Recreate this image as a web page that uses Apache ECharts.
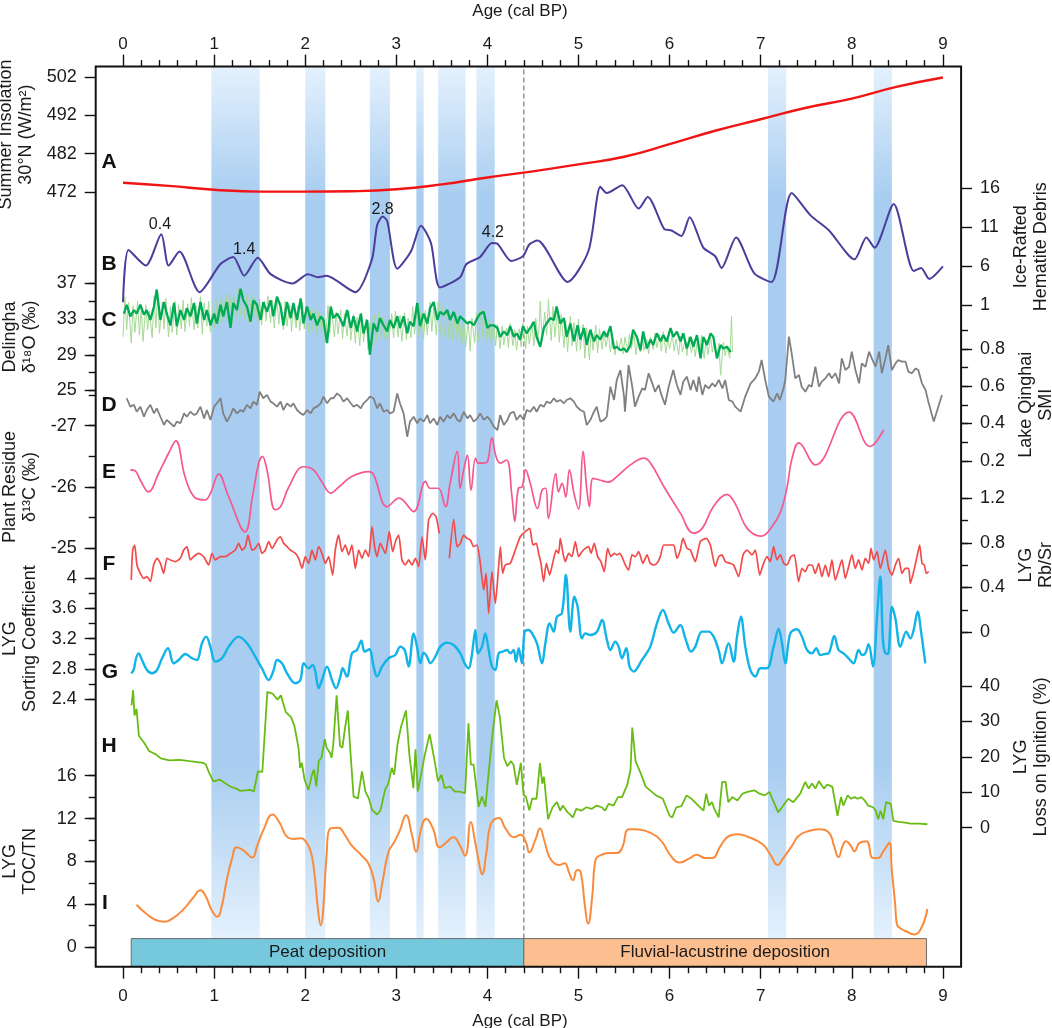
<!DOCTYPE html>
<html>
<head>
<meta charset="utf-8">
<script src="https://cdn.jsdelivr.net/npm/echarts@6.0.0/dist/echarts.min.js"></script>
<style>
html,body{margin:0;padding:0;background:#fff}
#main{width:1052px;height:1028px}
</style>
</head>
<body>
<div id="main"></div>
<script>
// ---- data (age in ka cal BP) ----
var ageTicks = [0, 1, 2, 3, 4, 5, 6, 7, 8, 9];

// shaded intervals [start, end]
var bands = [[0.97, 1.5], [2.0, 2.22], [2.71, 2.93], [3.22, 3.3], [3.46, 3.76], [3.88, 4.08], [7.08, 7.28], [8.24, 8.44]];
var boundaryAge = 4.4;
var depoSpans = [[0.09, 4.4], [4.4, 8.82]];
var depoNames = ['Peat deposition', 'Fluvial-lacustrine deposition'];

// A summer insolation 30N
var insolation = [[0, 474.4], [0.5, 473.6], [1, 472.6], [1.5, 472.1], [2, 472.1], [2.5, 472.2], [3, 472.7], [3.5, 474.0], [4, 475.8], [4.5, 477.4],
  [5, 479.2], [5.5, 481.2], [6, 484.5], [6.5, 488.0], [7, 491.0], [7.5, 494.0], [8, 496.4], [8.5, 499.5], [9, 501.9]];

// B ice-rafted hematite debris
var hematite = [[0, 1.4], [0.06, 8.1], [0.25, 6.1], [0.42, 10.1], [0.5, 6.1], [0.62, 7.9], [0.84, 2.7], [1.07, 6.3], [1.21, 7.2], [1.33, 4.8],
  [1.48, 7.1], [1.62, 5.0], [1.86, 3.8], [2.03, 5.0], [2.14, 4.6], [2.23, 4.8], [2.55, 2.7], [2.73, 6.8], [2.79, 11.3], [2.85, 12.4],
  [2.9, 11.8], [3.01, 5.7], [3.16, 7.9], [3.27, 11.2], [3.38, 9.0], [3.48, 3.3], [3.7, 4.6], [3.77, 6.3], [3.92, 7.2], [4.05, 9.0],
  [4.11, 8.9], [4.26, 6.7], [4.39, 7.3], [4.46, 8.8], [4.55, 9.3], [4.88, 4.0], [5.11, 8.0], [5.24, 16.2], [5.31, 15.4], [5.48, 16.4],
  [5.66, 13.4], [5.76, 14.9], [5.94, 10.8], [6.02, 10.6], [6.13, 9.9], [6.22, 12.3], [6.37, 8.4], [6.5, 7.3], [6.57, 5.8], [6.73, 9.7],
  [6.93, 5.1], [7.12, 4.0], [7.34, 15.4], [7.55, 12.5], [7.75, 10.6], [8.03, 6.9], [8.16, 9.7], [8.25, 8.4], [8.46, 14.0], [8.68, 5.4],
  [8.76, 5.8], [8.85, 4.4], [9.0, 6.0]];
var eventNames = ['0.4', '1.4', '2.8', '4.2', '5.5', '8.2'];
var eventAt = [[0.405, 11.3], [1.33, 8.2], [2.85, 13.3], [4.06, 10.3], [5.48, 17.4], [8.46, 16.7]];

// C Delingha d18O, raw (light) and smoothed (dark)
var d18oRaw = [[0.0, 31.0], [0.02, 35.5], [0.04, 31.8], [0.06, 34.9], [0.09, 30.3], [0.11, 34.5], [0.13, 31.5], [0.16, 35.0], [0.18, 31.2], [0.2, 34.2],
  [0.22, 30.5], [0.25, 34.6], [0.27, 31.8], [0.29, 33.9], [0.32, 30.9], [0.34, 35.6], [0.36, 32.0], [0.38, 36.0], [0.4, 31.4], [0.43, 34.9],
  [0.45, 31.9], [0.47, 35.3], [0.5, 31.0], [0.52, 34.4], [0.54, 31.5], [0.57, 35.0], [0.59, 31.2], [0.61, 34.6], [0.64, 31.9], [0.66, 35.1],
  [0.68, 31.6], [0.71, 34.7], [0.73, 32.2], [0.75, 35.4], [0.78, 31.8], [0.8, 34.5], [0.82, 32.0], [0.85, 35.5], [0.87, 31.3], [0.89, 34.8],
  [0.92, 32.2], [0.94, 35.0], [0.96, 31.5], [0.99, 34.3], [1.01, 32.0], [1.03, 35.2], [1.06, 32.4], [1.08, 35.6], [1.1, 32.6], [1.13, 35.8],
  [1.15, 33.0], [1.17, 36.0], [1.2, 32.5], [1.22, 35.5], [1.24, 33.2], [1.27, 36.4], [1.29, 33.4], [1.31, 36.2], [1.34, 33.0], [1.36, 35.7],
  [1.38, 32.6], [1.41, 35.9], [1.43, 33.1], [1.45, 35.4], [1.48, 32.5], [1.5, 35.2], [1.52, 32.3], [1.55, 35.0], [1.57, 32.8], [1.59, 35.6],
  [1.62, 32.6], [1.64, 35.1], [1.66, 32.0], [1.69, 35.3], [1.71, 32.4], [1.73, 34.9], [1.76, 31.8], [1.78, 35.0], [1.8, 32.2], [1.83, 34.6],
  [1.85, 31.6], [1.87, 34.8], [1.9, 32.0], [1.92, 34.5], [1.94, 31.7], [1.97, 34.9], [1.99, 31.9], [2.01, 34.4], [2.04, 31.5], [2.06, 34.0],
  [2.08, 31.8], [2.11, 34.3], [2.13, 31.2], [2.15, 33.9], [2.18, 31.6], [2.2, 33.7], [2.22, 30.4], [2.25, 34.5], [2.27, 31.4], [2.29, 34.1],
  [2.32, 31.0], [2.34, 33.8], [2.36, 31.3], [2.39, 34.0], [2.41, 30.8], [2.43, 33.6], [2.46, 31.1], [2.48, 33.9], [2.5, 30.6], [2.53, 33.5],
  [2.55, 30.3], [2.57, 33.2], [2.6, 30.0], [2.62, 33.7], [2.64, 30.4], [2.67, 33.0], [2.69, 29.6], [2.71, 32.6], [2.74, 30.0], [2.76, 33.4],
  [2.78, 30.6], [2.81, 33.8], [2.83, 30.9], [2.85, 33.2], [2.88, 30.5], [2.9, 33.0], [2.92, 30.8], [2.95, 33.6], [2.97, 30.9], [2.99, 33.9],
  [3.02, 31.0], [3.04, 33.4], [3.06, 30.5], [3.09, 33.7], [3.11, 30.7], [3.13, 33.1], [3.16, 30.9], [3.18, 34.4], [3.2, 31.3], [3.23, 34.6],
  [3.25, 31.0], [3.27, 33.8], [3.3, 30.8], [3.32, 34.0], [3.34, 31.2], [3.37, 34.9], [3.39, 31.6], [3.41, 34.3], [3.44, 31.2], [3.46, 35.0],
  [3.48, 31.4], [3.51, 34.4], [3.53, 31.0], [3.55, 34.0], [3.58, 30.8], [3.6, 33.5], [3.62, 30.6], [3.65, 33.8], [3.67, 30.5], [3.69, 33.2],
  [3.72, 30.2], [3.74, 33.0], [3.76, 29.8], [3.79, 32.8], [3.81, 29.4], [3.83, 33.1], [3.86, 30.3], [3.88, 33.7], [3.9, 30.6], [3.93, 34.1],
  [3.95, 30.9], [3.97, 33.3], [4.0, 30.5], [4.02, 33.0], [4.04, 30.3], [4.07, 32.6], [4.09, 30.0], [4.11, 32.4], [4.14, 29.7], [4.16, 32.2],
  [4.18, 30.1], [4.21, 32.0], [4.23, 29.8], [4.25, 32.5], [4.28, 30.0], [4.3, 31.8], [4.32, 29.5], [4.35, 31.9], [4.37, 29.9], [4.39, 32.5],
  [4.42, 29.7], [4.44, 32.2], [4.46, 30.2], [4.49, 32.6], [4.51, 30.0], [4.53, 33.1], [4.56, 30.5], [4.58, 35.0], [4.6, 30.7], [4.63, 33.8],
  [4.65, 31.2], [4.67, 35.2], [4.7, 30.6], [4.72, 34.4], [4.74, 31.0], [4.77, 33.9], [4.79, 30.4], [4.81, 33.5], [4.84, 29.8], [4.86, 32.8],
  [4.88, 29.3], [4.91, 33.3], [4.93, 30.0], [4.95, 32.6], [4.98, 29.4], [5.0, 33.0], [5.02, 29.6], [5.05, 32.4], [5.07, 28.6], [5.09, 32.0],
  [5.12, 28.4], [5.14, 31.8], [5.16, 29.5], [5.19, 32.3], [5.21, 29.2], [5.23, 31.9], [5.26, 29.6], [5.28, 31.7], [5.3, 29.9], [5.33, 31.4],
  [5.35, 29.3], [5.37, 30.8], [5.4, 29.0], [5.42, 30.6], [5.44, 29.5], [5.47, 30.9], [5.49, 29.1], [5.51, 31.0], [5.54, 29.4], [5.56, 31.3],
  [5.58, 29.7], [5.61, 31.2], [5.63, 29.0], [5.65, 30.8], [5.68, 29.3], [5.7, 31.2], [5.72, 29.5], [5.75, 30.7], [5.77, 29.1], [5.79, 31.0],
  [5.82, 29.6], [5.84, 31.4], [5.86, 29.8], [5.89, 31.3], [5.91, 29.4], [5.93, 31.6], [5.96, 29.2], [5.98, 30.9], [6.0, 29.7], [6.03, 31.2],
  [6.05, 29.4], [6.07, 30.8], [6.1, 29.0], [6.12, 31.1], [6.14, 29.3], [6.17, 30.6], [6.19, 28.9], [6.21, 31.0], [6.24, 29.2], [6.26, 30.5],
  [6.28, 28.8], [6.31, 30.9], [6.33, 29.1], [6.35, 31.2], [6.38, 28.6], [6.4, 30.7], [6.42, 29.0], [6.45, 31.0], [6.47, 29.3], [6.49, 30.6],
  [6.52, 28.7], [6.54, 30.3], [6.56, 26.7], [6.59, 30.4], [6.61, 28.9], [6.63, 30.0], [6.66, 28.6], [6.68, 33.3], [6.69, 29.3]];
var d18oSmooth = [[0.01, 33.6], [0.04, 34.6], [0.08, 33.3], [0.12, 34.0], [0.15, 33.6], [0.19, 34.6], [0.23, 33.5], [0.26, 34.0], [0.30, 32.9], [0.34, 34.4],
  [0.37, 36.3], [0.41, 32.9], [0.45, 34.9], [0.48, 33.6], [0.52, 32.3], [0.56, 34.8], [0.59, 32.2], [0.63, 34.0], [0.67, 32.9], [0.70, 34.2],
  [0.74, 33.3], [0.78, 34.8], [0.81, 32.5], [0.85, 34.9], [0.89, 32.9], [0.92, 34.0], [0.96, 32.3], [1.00, 33.6], [1.03, 32.5], [1.07, 34.6],
  [1.10, 33.3], [1.14, 34.9], [1.18, 32.0], [1.21, 34.8], [1.25, 34.0], [1.29, 36.4], [1.32, 35.1], [1.36, 34.4], [1.40, 32.7], [1.43, 35.1],
  [1.47, 34.6], [1.51, 32.9], [1.54, 34.9], [1.58, 33.8], [1.62, 35.1], [1.65, 33.3], [1.69, 35.5], [1.73, 34.4], [1.76, 32.3], [1.80, 34.9],
  [1.84, 33.1], [1.87, 34.8], [1.91, 32.9], [1.95, 35.3], [1.98, 32.5], [2.02, 34.4], [2.06, 32.9], [2.09, 33.6], [2.13, 32.3], [2.17, 33.3],
  [2.20, 32.9], [2.24, 30.3], [2.28, 34.4], [2.31, 33.1], [2.35, 33.6], [2.39, 32.9], [2.42, 32.2], [2.46, 34.0], [2.50, 32.0], [2.53, 33.3],
  [2.57, 31.6], [2.61, 33.6], [2.64, 31.4], [2.68, 32.9], [2.71, 29.0], [2.75, 32.5], [2.79, 31.6], [2.82, 33.1], [2.86, 32.3], [2.90, 31.6],
  [2.93, 32.9], [2.97, 32.0], [3.01, 33.3], [3.04, 32.0], [3.08, 33.3], [3.12, 31.4], [3.15, 32.7], [3.19, 32.2], [3.23, 34.8], [3.26, 32.2],
  [3.30, 33.6], [3.34, 32.5], [3.37, 34.2], [3.41, 34.9], [3.45, 32.9], [3.48, 33.8], [3.52, 33.5], [3.56, 34.0], [3.59, 32.9], [3.63, 33.8],
  [3.67, 32.5], [3.70, 33.3], [3.74, 32.9], [3.78, 32.5], [3.81, 32.7], [3.85, 32.3], [3.89, 33.1], [3.92, 33.6], [3.96, 33.8], [4.00, 32.0],
  [4.03, 32.3], [4.07, 32.3], [4.11, 32.0], [4.14, 31.0], [4.18, 31.6], [4.22, 31.2], [4.25, 32.2], [4.29, 31.0], [4.32, 31.4], [4.36, 30.7],
  [4.39, 32.2], [4.43, 31.4], [4.47, 32.0], [4.51, 32.7], [4.54, 31.0], [4.58, 29.9], [4.62, 32.0], [4.65, 32.5], [4.69, 33.1], [4.73, 32.9],
  [4.76, 34.4], [4.80, 32.5], [4.84, 33.1], [4.87, 31.0], [4.91, 32.5], [4.95, 30.5], [4.99, 32.3], [5.02, 30.7], [5.06, 32.0], [5.09, 30.1],
  [5.13, 31.8], [5.17, 30.5], [5.20, 31.2], [5.24, 30.7], [5.28, 31.6], [5.31, 31.0], [5.35, 32.2], [5.39, 29.7], [5.42, 29.9], [5.46, 29.5],
  [5.50, 29.7], [5.53, 29.3], [5.57, 30.1], [5.60, 31.8], [5.64, 31.0], [5.68, 29.5], [5.71, 31.6], [5.75, 29.7], [5.79, 30.7], [5.82, 30.1],
  [5.86, 31.4], [5.90, 30.5], [5.93, 31.2], [5.97, 30.5], [6.01, 32.0], [6.04, 31.0], [6.08, 31.6], [6.12, 30.5], [6.15, 31.4], [6.19, 29.7],
  [6.23, 31.0], [6.26, 29.9], [6.30, 31.2], [6.34, 28.6], [6.37, 31.0], [6.41, 30.1], [6.45, 31.4], [6.48, 31.0], [6.52, 28.6], [6.56, 30.1],
  [6.59, 29.7], [6.63, 29.9], [6.67, 29.3]];

// D Lake Qinghai SMI
var smi = [[0.04, 0.535], [0.08, 0.49], [0.12, 0.50], [0.15, 0.463], [0.19, 0.49], [0.23, 0.436], [0.26, 0.472], [0.30, 0.50], [0.34, 0.454], [0.37, 0.481],
  [0.41, 0.436], [0.45, 0.392], [0.48, 0.419], [0.52, 0.401], [0.56, 0.383], [0.59, 0.41], [0.63, 0.401], [0.67, 0.454], [0.70, 0.436], [0.74, 0.463],
  [0.78, 0.445], [0.81, 0.454], [0.85, 0.49], [0.89, 0.427], [0.92, 0.472], [0.96, 0.419], [1.00, 0.49], [1.03, 0.508], [1.07, 0.535], [1.10, 0.454],
  [1.14, 0.41], [1.18, 0.445], [1.21, 0.481], [1.25, 0.454], [1.29, 0.472], [1.32, 0.463], [1.36, 0.50], [1.40, 0.481], [1.43, 0.517], [1.47, 0.50],
  [1.50, 0.57], [1.54, 0.535], [1.58, 0.553], [1.62, 0.517], [1.65, 0.508], [1.69, 0.49], [1.73, 0.517], [1.76, 0.472], [1.80, 0.508], [1.84, 0.49],
  [1.87, 0.508], [1.91, 0.472], [1.95, 0.454], [1.98, 0.445], [2.02, 0.472], [2.06, 0.454], [2.09, 0.481], [2.13, 0.49], [2.17, 0.508], [2.20, 0.544],
  [2.24, 0.508], [2.28, 0.535], [2.31, 0.535], [2.35, 0.561], [2.39, 0.544], [2.42, 0.517], [2.46, 0.535], [2.50, 0.508], [2.53, 0.49], [2.57, 0.50],
  [2.61, 0.481], [2.64, 0.508], [2.68, 0.526], [2.71, 0.544], [2.75, 0.535], [2.79, 0.481], [2.82, 0.508], [2.86, 0.463], [2.90, 0.472], [2.93, 0.454],
  [2.97, 0.463], [3.01, 0.561], [3.04, 0.508], [3.08, 0.454], [3.12, 0.329], [3.15, 0.41], [3.19, 0.436], [3.23, 0.401], [3.26, 0.427], [3.30, 0.41],
  [3.34, 0.445], [3.37, 0.401], [3.41, 0.427], [3.45, 0.392], [3.48, 0.436], [3.52, 0.41], [3.56, 0.445], [3.59, 0.427], [3.63, 0.454], [3.67, 0.419],
  [3.70, 0.41], [3.74, 0.463], [3.78, 0.427], [3.81, 0.445], [3.85, 0.41], [3.89, 0.427], [3.92, 0.454], [3.96, 0.419], [4.00, 0.436], [4.03, 0.419],
  [4.07, 0.383], [4.11, 0.365], [4.14, 0.445], [4.18, 0.392], [4.22, 0.419], [4.25, 0.454], [4.29, 0.463], [4.32, 0.419], [4.36, 0.445], [4.40, 0.419],
  [4.43, 0.472], [4.47, 0.463], [4.51, 0.49], [4.54, 0.463], [4.58, 0.50], [4.62, 0.49], [4.65, 0.517], [4.69, 0.508], [4.73, 0.535], [4.76, 0.517],
  [4.80, 0.526], [4.84, 0.508], [4.87, 0.526], [4.91, 0.535], [4.95, 0.517], [4.98, 0.49], [5.02, 0.472], [5.06, 0.463], [5.09, 0.392], [5.13, 0.419],
  [5.17, 0.463], [5.20, 0.49], [5.24, 0.41], [5.28, 0.419], [5.31, 0.436], [5.35, 0.597], [5.39, 0.526], [5.42, 0.633], [5.46, 0.686], [5.50, 0.544],
  [5.51, 0.463], [5.55, 0.713], [5.59, 0.597], [5.62, 0.49], [5.66, 0.544], [5.70, 0.588], [5.73, 0.579], [5.77, 0.669], [5.81, 0.615], [5.84, 0.57],
  [5.88, 0.606], [5.91, 0.553], [5.95, 0.50], [5.99, 0.597], [6.04, 0.686], [6.08, 0.606], [6.12, 0.553], [6.15, 0.624], [6.19, 0.651], [6.23, 0.579],
  [6.26, 0.633], [6.30, 0.57], [6.32, 0.651], [6.36, 0.553], [6.39, 0.606], [6.43, 0.588], [6.47, 0.615], [6.50, 0.597], [6.54, 0.633], [6.58, 0.588],
  [6.61, 0.633], [6.65, 0.526], [6.69, 0.517], [6.72, 0.49], [6.78, 0.463], [6.83, 0.544], [6.89, 0.615], [6.94, 0.642], [6.98, 0.678], [7.01, 0.74],
  [7.05, 0.633], [7.09, 0.544], [7.14, 0.517], [7.18, 0.561], [7.21, 0.526], [7.25, 0.588], [7.27, 0.633], [7.31, 0.865], [7.34, 0.776], [7.38, 0.642],
  [7.42, 0.66], [7.45, 0.597], [7.49, 0.57], [7.53, 0.606], [7.56, 0.597], [7.60, 0.704], [7.64, 0.597], [7.67, 0.624], [7.71, 0.642], [7.75, 0.669],
  [7.78, 0.642], [7.82, 0.669], [7.86, 0.615], [7.89, 0.749], [7.93, 0.686], [7.97, 0.704], [8.00, 0.785], [8.04, 0.686], [8.08, 0.615], [8.11, 0.722],
  [8.15, 0.704], [8.19, 0.785], [8.22, 0.749], [8.26, 0.704], [8.30, 0.785], [8.33, 0.669], [8.37, 0.749], [8.40, 0.82], [8.44, 0.686], [8.48, 0.722],
  [8.51, 0.74], [8.55, 0.731], [8.59, 0.731], [8.62, 0.678], [8.66, 0.669], [8.70, 0.695], [8.73, 0.686], [8.77, 0.615], [8.81, 0.579], [8.84, 0.517],
  [8.90, 0.41], [8.95, 0.49], [8.99, 0.553]];

// E plant residue d13C
var d13c = [[0.08, -26.28], [0.13, -26.27], [0.19, -26.11], [0.28, -25.92], [0.39, -26.22], [0.50, -26.55], [0.58, -26.75], [0.68, -26.17], [0.78, -25.84], [0.90, -25.79],
  [0.96, -25.9], [1.05, -26.21], [1.16, -25.84], [1.34, -25.27], [1.42, -25.84], [1.49, -26.39], [1.53, -26.5], [1.58, -26.28], [1.67, -25.63], [1.73, -25.68],
  [1.82, -26.0], [1.98, -26.33], [2.09, -26.28], [2.18, -26.09], [2.28, -25.9], [2.37, -26.0], [2.51, -26.17], [2.70, -26.25], [2.75, -26.2], [2.90, -25.68],
  [3.03, -25.82], [3.19, -25.6], [3.32, -26.09], [3.37, -25.98], [3.46, -25.98], [3.54, -25.68], [3.59, -26.06], [3.67, -26.58], [3.70, -25.98], [3.74, -26.28],
  [3.78, -26.52], [3.82, -25.95], [3.87, -26.47], [3.90, -26.39], [3.96, -26.39], [4.0, -26.41], [4.05, -26.8], [4.09, -26.52], [4.14, -26.39], [4.21, -26.44],
  [4.27, -25.84], [4.30, -25.44], [4.34, -25.98], [4.38, -26.0], [4.42, -26.28], [4.47, -26.06], [4.55, -25.65], [4.6, -25.95], [4.64, -25.98], [4.67, -25.49],
  [4.75, -26.22], [4.78, -25.92], [4.82, -26.06], [4.86, -25.84], [4.90, -26.28], [4.95, -25.9], [5.0, -25.64], [5.05, -26.58], [5.09, -25.98], [5.12, -25.68],
  [5.16, -26.14], [5.24, -26.11], [5.33, -26.08], [5.42, -26.17], [5.57, -26.36], [5.72, -26.47], [5.79, -26.39], [5.94, -26.0], [6.12, -25.57], [6.26, -25.25],
  [6.36, -25.33], [6.48, -25.68], [6.63, -25.88], [6.72, -25.73], [6.85, -25.33], [7.0, -25.2], [7.07, -25.25], [7.21, -25.57], [7.29, -26.0], [7.34, -26.44],
  [7.42, -26.72], [7.6, -26.36], [7.97, -27.22], [8.2, -26.66], [8.35, -26.93]];

// F LYG Rb/Sr (gap near 3.5)
var rbsr = [[0.09, 0.466], [0.106, 0.735], [0.128, 0.78], [0.153, 0.601], [0.19, 0.526], [0.227, 0.481], [0.263, 0.496], [0.30, 0.452], [0.336, 0.601], [0.373, 0.661],
  [0.41, 0.616], [0.446, 0.526], [0.483, 0.661], [0.519, 0.646], [0.574, 0.631], [0.629, 0.661], [0.666, 0.735], [0.702, 0.765], [0.739, 0.646], [0.775, 0.676],
  [0.83, 0.705], [0.885, 0.676], [0.94, 0.601], [0.977, 0.705], [1.013, 0.646], [1.068, 0.676], [1.123, 0.676], [1.178, 0.705], [1.233, 0.735], [1.269, 0.795],
  [1.306, 0.735], [1.343, 0.765], [1.372, 0.869], [1.416, 0.735], [1.452, 0.75], [1.489, 0.795], [1.525, 0.705], [1.562, 0.735], [1.599, 0.81], [1.635, 0.75],
  [1.69, 0.825], [1.727, 0.854], [1.763, 0.795], [1.8, 0.765], [1.837, 0.735], [1.892, 0.705], [1.928, 0.661], [1.965, 0.571], [2.001, 0.676], [2.038, 0.616],
  [2.074, 0.735], [2.111, 0.646], [2.147, 0.765], [2.184, 0.705], [2.221, 0.616], [2.257, 0.676], [2.301, 0.511], [2.33, 0.735], [2.367, 0.869], [2.404, 0.72],
  [2.44, 0.78], [2.477, 0.691], [2.513, 0.78], [2.55, 0.571], [2.587, 0.735], [2.623, 0.661], [2.66, 0.735], [2.696, 0.676], [2.733, 0.944], [2.762, 0.765],
  [2.788, 0.676], [2.824, 0.795], [2.879, 0.705], [2.923, 0.899], [2.96, 0.72], [2.996, 0.825], [3.026, 0.869], [3.062, 0.646], [3.099, 0.601], [3.135, 0.646],
  [3.172, 0.601], [3.209, 0.661], [3.245, 0.586], [3.282, 0.854], [3.318, 0.646], [3.355, 1.004], [3.399, 1.063], [3.436, 1.033], [3.472, 0.884], [3.53, '-'],
  [3.582, 0.661], [3.63, 1.01], [3.667, 0.765], [3.703, 0.795], [3.74, 0.869], [3.776, 0.839], [3.813, 0.825], [3.849, 0.765], [3.886, 0.78], [3.922, 0.616],
  [3.959, 0.377], [3.985, 0.526], [4.014, 0.168], [4.05, 0.541], [4.087, 0.258], [4.123, 0.586], [4.142, 0.765], [4.167, 0.526], [4.196, 0.601], [4.251, 0.616],
  [4.306, 0.735], [4.361, 0.854], [4.416, 0.899], [4.464, 0.929], [4.5, 0.78], [4.537, 0.795], [4.562, 0.705], [4.588, 0.616], [4.617, 0.452], [4.647, 0.616],
  [4.683, 0.511], [4.72, 0.631], [4.756, 0.735], [4.782, 0.705], [4.8, 0.839], [4.83, 0.705], [4.855, 0.631], [4.892, 0.705], [4.928, 0.676], [4.965, 0.81],
  [5.001, 0.676], [5.038, 0.72], [5.074, 0.75], [5.111, 0.765], [5.137, 0.705], [5.173, 0.795], [5.21, 0.676], [5.246, 0.631], [5.283, 0.541], [5.32, 0.75],
  [5.356, 0.676], [5.393, 0.705], [5.422, 0.691], [5.451, 0.705], [5.477, 0.676], [5.514, 0.601], [5.55, 0.556], [5.587, 0.691], [5.624, 0.676], [5.66, 0.72],
  [5.708, 0.616], [5.752, 0.691], [5.788, 0.616], [5.825, 0.601], [5.861, 0.616], [5.898, 0.676], [5.935, 0.78], [5.99, 0.78], [6.045, 0.78], [6.081, 0.661],
  [6.118, 0.735], [6.147, 0.839], [6.191, 0.75], [6.228, 0.735], [6.282, 0.631], [6.337, 0.81], [6.403, 0.839], [6.447, 0.78], [6.502, 0.586], [6.539, 0.676],
  [6.575, 0.691], [6.612, 0.631], [6.667, 0.616], [6.703, 0.601], [6.758, 0.496], [6.806, 0.691], [6.85, 0.735], [6.904, 0.691], [6.941, 0.735], [6.989, 0.511],
  [7.025, 0.601], [7.069, 0.676], [7.105, 0.631], [7.142, 0.765], [7.179, 0.646], [7.215, 0.691], [7.252, 0.616], [7.288, 0.601], [7.332, 0.676], [7.369, 0.691],
  [7.416, 0.452], [7.453, 0.571], [7.489, 0.541], [7.526, 0.601], [7.563, 0.601], [7.599, 0.526], [7.636, 0.616], [7.672, 0.496], [7.709, 0.601], [7.746, 0.496],
  [7.782, 0.646], [7.819, 0.466], [7.855, 0.556], [7.892, 0.646], [7.929, 0.481], [7.965, 0.586], [8.002, 0.691], [8.038, 0.571], [8.075, 0.646], [8.112, 0.556],
  [8.148, 0.661], [8.185, 0.616], [8.211, 0.75], [8.24, 0.646], [8.277, 0.72], [8.313, 0.571], [8.368, 0.735], [8.405, 0.571], [8.441, 0.511], [8.478, 0.601],
  [8.514, 0.661], [8.551, 0.526], [8.587, 0.571], [8.624, 0.571], [8.643, 0.437], [8.679, 0.541], [8.716, 0.676], [8.745, 0.78], [8.771, 0.616], [8.796, 0.601],
  [8.818, 0.526], [8.844, 0.541]];

// G LYG sorting coefficient
var sorting = [[0.09, 2.745], [0.117, 2.788], [0.143, 2.942], [0.172, 3.007], [0.208, 2.92], [0.263, 2.788], [0.318, 2.745], [0.373, 2.788], [0.428, 2.942], [0.494, 3.073],
  [0.556, 2.876], [0.611, 2.92], [0.684, 2.999], [0.757, 2.942], [0.812, 2.92], [0.867, 3.139], [0.914, 3.226], [0.958, 3.095], [1.013, 2.898], [1.086, 2.942],
  [1.16, 3.095], [1.269, 3.226], [1.361, 3.139], [1.452, 2.963], [1.525, 2.81], [1.599, 2.657], [1.654, 2.788], [1.69, 2.92], [1.745, 2.876], [1.8, 2.745],
  [1.892, 2.613], [1.947, 2.657], [1.983, 2.876], [2.038, 2.81], [2.082, 2.854], [2.111, 2.767], [2.147, 2.547], [2.184, 2.657], [2.239, 2.832], [2.294, 2.657],
  [2.338, 2.547], [2.386, 2.701], [2.411, 2.81], [2.458, 2.701], [2.513, 3.007], [2.568, 3.051], [2.616, 3.174], [2.652, 3.029], [2.703, 3.06], [2.751, 2.832],
  [2.788, 2.701], [2.843, 2.832], [2.916, 2.942], [2.989, 2.985], [3.044, 3.095], [3.092, 3.051], [3.135, 2.832], [3.19, 3.27], [3.227, 3.095], [3.264, 2.876],
  [3.3, 3.016], [3.337, 2.963], [3.373, 2.876], [3.428, 2.963], [3.483, 3.095], [3.556, 3.148], [3.629, 3.117], [3.703, 3.007], [3.75, 2.876], [3.794, 2.81],
  [3.824, 2.942], [3.85, 3.183], [3.868, 3.314], [3.897, 3.007], [3.94, 3.095], [3.977, 3.27], [4.014, 3.051], [4.05, 2.832], [4.087, 2.788], [4.123, 3.007],
  [4.167, 3.029], [4.215, 3.051], [4.251, 3.007], [4.288, 3.051], [4.314, 2.898], [4.343, 3.073], [4.379, 2.876], [4.409, 3.292], [4.453, 3.314], [4.49, 3.27],
  [4.544, 3.139], [4.6, 2.876], [4.636, 3.139], [4.683, 3.401], [4.727, 3.292], [4.764, 3.489], [4.818, 3.533], [4.862, 4.037], [4.91, 3.292], [4.954, 3.752],
  [4.99, 3.621], [5.038, 3.204], [5.074, 3.27], [5.129, 3.248], [5.202, 3.292], [5.258, 3.445], [5.312, 3.183], [5.349, 3.051], [5.404, 3.161], [5.44, 3.095],
  [5.477, 2.942], [5.525, 3.073], [5.561, 2.832], [5.605, 2.767], [5.697, 2.92], [5.788, 3.095], [5.861, 3.401], [5.927, 3.577], [5.989, 3.401], [6.045, 3.279],
  [6.118, 3.379], [6.173, 3.204], [6.235, 3.029], [6.282, 3.095], [6.355, 3.292], [6.429, 3.292], [6.483, 3.226], [6.538, 3.051], [6.575, 2.876], [6.648, 3.139],
  [6.703, 2.898], [6.74, 3.226], [6.783, 3.489], [6.831, 3.095], [6.886, 2.788], [6.941, 2.701], [6.996, 2.81], [7.069, 2.81], [7.142, 3.095], [7.197, 3.327],
  [7.234, 3.139], [7.27, 2.876], [7.325, 3.27], [7.398, 3.323], [7.453, 3.226], [7.508, 3.051], [7.563, 3.007], [7.61, 3.073], [7.654, 2.985], [7.709, 2.999],
  [7.746, 3.007], [7.808, 3.235], [7.855, 3.051], [7.91, 3.007], [7.965, 2.942], [8.02, 2.876], [8.075, 3.051], [8.112, 2.985], [8.148, 3.007], [8.185, 3.126],
  [8.233, 2.832], [8.277, 3.489], [8.313, 4.015], [8.342, 3.183], [8.368, 3.007], [8.397, 2.999], [8.441, 3.621], [8.478, 3.467], [8.533, 3.095], [8.598, 3.292],
  [8.643, 3.204], [8.679, 3.314], [8.723, 3.555], [8.763, 3.27], [8.807, 2.876]];

// H LYG loss on ignition (%)
var loi = [[0.093, 34.55], [0.111, 38.85], [0.126, 31.69], [0.148, 33.6], [0.174, 25.95], [0.23, 24.04], [0.286, 21.65], [0.36, 20.7], [0.416, 19.55], [0.508, 18.98],
  [0.62, 19.17], [0.731, 18.79], [0.879, 18.31], [0.909, 17.83], [0.946, 15.44], [0.991, 13.05], [1.065, 13.53], [1.176, 11.62], [1.25, 10.95], [1.288, 10.38],
  [1.399, 10.66], [1.436, 10.19], [1.481, 15.92], [1.529, 15.73], [1.584, 38.38], [1.64, 37.9], [1.696, 36.18], [1.733, 37.42], [1.788, 32.64], [1.844, 31.21],
  [1.881, 28.82], [1.926, 22.61], [1.944, 16.87], [1.963, 18.31], [1.993, 13.53], [2.037, 10.66], [2.074, 14.96], [2.096, 16.4], [2.122, 11.62], [2.148, 18.79],
  [2.178, 19.74], [2.215, 25.0], [2.234, 22.61], [2.271, 21.17], [2.289, 19.74], [2.308, 23.56], [2.345, 37.42], [2.382, 23.09], [2.408, 22.61], [2.438, 28.34],
  [2.468, 33.12], [2.493, 22.61], [2.531, 8.75], [2.579, 8.27], [2.623, 15.92], [2.661, 10.19], [2.698, 8.27], [2.735, 4.93], [2.79, 3.69], [2.827, 4.93],
  [2.876, 10.66], [2.913, 12.57], [2.95, 16.87], [2.976, 14.96], [3.013, 23.56], [3.05, 28.34], [3.106, 33.12], [3.143, 20.7], [3.187, 11.14], [3.21, 22.13],
  [3.236, 10.19], [3.31, 20.22], [3.366, 26.43], [3.421, 18.79], [3.458, 13.05], [3.495, 14.96], [3.532, 11.14], [3.588, 11.62], [3.644, 10.19], [3.699, 10.19],
  [3.755, 9.71], [3.792, 29.49], [3.818, 17.83], [3.848, 17.83], [3.904, 5.88], [3.941, 8.75], [3.978, 5.88], [4.015, 15.92], [4.052, 25.48], [4.1, 35.99],
  [4.137, 31.21], [4.182, 19.74], [4.219, 17.35], [4.256, 18.79], [4.286, 17.83], [4.323, 12.1], [4.367, 18.31], [4.397, 9.23], [4.423, 8.75], [4.46, 4.93],
  [4.491, 8.15], [4.539, 8.15], [4.577, 18.22], [4.603, 12.46], [4.621, 14.38], [4.666, 2.39], [4.715, 5.75], [4.763, 7.19], [4.8, 4.79], [4.826, 6.23],
  [4.882, 4.31], [4.938, 2.87], [4.976, 5.27], [5.031, 4.79], [5.087, 5.75], [5.143, 5.27], [5.199, 6.23], [5.255, 5.75], [5.292, 4.79], [5.33, 6.71],
  [5.385, 6.23], [5.433, 8.63], [5.478, 8.63], [5.534, 11.98], [5.571, 16.3], [5.59, 28.29], [5.627, 18.7], [5.683, 15.34], [5.739, 11.5], [5.851, 9.11],
  [5.925, 8.15], [6.0, 3.35], [6.029, 2.87], [6.074, 5.75], [6.13, 6.04], [6.186, 9.11], [6.241, 8.15], [6.316, 6.23], [6.372, 4.79], [6.402, 9.59],
  [6.432, 6.23], [6.465, 7.19], [6.491, 5.27], [6.539, 2.87], [6.577, 12.94], [6.614, 12.94], [6.644, 7.19], [6.689, 8.63], [6.744, 7.67], [6.8, 9.59],
  [6.856, 10.07], [6.931, 10.55], [6.987, 9.59], [7.043, 9.11], [7.098, 10.07], [7.136, 7.67], [7.192, 4.31], [7.248, 6.23], [7.303, 8.15], [7.359, 7.19],
  [7.434, 9.59], [7.489, 12.94], [7.527, 11.03], [7.564, 12.46], [7.601, 11.03], [7.638, 13.14], [7.694, 11.03], [7.731, 12.18], [7.787, 11.5], [7.843, 3.35],
  [7.881, 8.63], [7.907, 6.23], [7.955, 9.11], [7.992, 8.15], [8.029, 8.63], [8.066, 8.15], [8.104, 8.63], [8.141, 7.67], [8.178, 6.23], [8.234, 5.75],
  [8.264, 4.79], [8.29, 2.39], [8.316, 4.79], [8.346, 2.39], [8.376, 7.19], [8.428, 6.71], [8.457, 1.91], [8.513, 1.63], [8.587, 1.43], [8.644, 1.15],
  [8.737, 1.15], [8.83, 0.95]];

// I LYG TOC/TN
var tocTn = [[0.148, 3.95], [0.249, 3.16], [0.36, 2.53], [0.453, 2.37], [0.545, 2.68], [0.657, 3.47], [0.768, 4.58], [0.85, 5.3], [0.909, 4.73], [0.972, 3.47],
  [1.035, 2.84], [1.083, 3.79], [1.132, 5.99], [1.195, 8.21], [1.25, 9.31], [1.325, 9.0], [1.417, 8.37], [1.473, 9.47], [1.547, 11.05], [1.64, 12.37],
  [1.714, 11.68], [1.807, 10.26], [1.881, 10.1], [1.955, 10.17], [2.011, 9.79], [2.059, 8.98], [2.096, 7.26], [2.141, 3.47], [2.171, 2.05], [2.197, 3.47],
  [2.234, 8.52], [2.271, 11.05], [2.364, 11.14], [2.438, 10.42], [2.512, 9.47], [2.623, 8.52], [2.698, 7.73], [2.753, 6.31], [2.801, 4.26], [2.846, 5.99],
  [2.913, 8.84], [2.976, 9.79], [3.039, 10.89], [3.106, 12.31], [3.173, 10.42], [3.217, 8.9], [3.273, 11.05], [3.328, 11.99], [3.403, 11.05], [3.477, 9.31],
  [3.551, 9.79], [3.625, 10.26], [3.699, 9.47], [3.755, 8.52], [3.818, 11.68], [3.866, 9.79], [3.922, 7.26], [3.941, 6.79], [3.989, 8.84], [4.033, 11.37],
  [4.126, 12.06], [4.2, 11.05], [4.293, 10.26], [4.367, 10.48], [4.423, 9.79], [4.46, 8.84], [4.528, 10.05], [4.577, 11.06], [4.621, 10.05], [4.677, 8.47],
  [4.733, 7.83], [4.789, 7.67], [4.845, 7.83], [4.9, 6.88], [4.938, 6.25], [4.986, 7.2], [5.023, 7.04], [5.068, 4.03], [5.105, 2.19], [5.15, 4.67],
  [5.187, 8.15], [5.254, 8.62], [5.329, 8.78], [5.422, 8.78], [5.478, 9.26], [5.552, 11.0], [5.627, 11.0], [5.739, 10.84], [5.851, 10.37], [5.925, 9.73],
  [6.018, 8.47], [6.111, 7.9], [6.223, 8.31], [6.297, 8.62], [6.39, 8.31], [6.465, 8.31], [6.558, 9.42], [6.651, 10.37], [6.744, 10.53], [6.837, 10.37],
  [6.968, 9.89], [7.043, 9.42], [7.117, 8.47], [7.184, 7.67], [7.248, 8.31], [7.341, 9.42], [7.415, 10.37], [7.527, 10.84], [7.638, 11.0], [7.75, 10.68],
  [7.806, 9.42], [7.854, 8.4], [7.899, 9.42], [7.936, 9.89], [7.992, 9.42], [8.029, 8.94], [8.085, 9.73], [8.159, 9.89], [8.234, 8.31], [8.29, 8.31],
  [8.346, 8.94], [8.413, 9.73], [8.439, 7.2], [8.476, 4.03], [8.495, 2.13], [8.551, 1.66], [8.607, 1.43], [8.681, 1.18], [8.756, 1.66], [8.83, 3.56]];

// ---- layout ----
var W = 1052, H = 1028;
var FONT = '"Liberation Sans", Arial, sans-serif';
var INK = '#1a1a1a';
var frame = { l: 95.7, r: 961.1, t: 66.6, b: 966.7 };
var ageMin = -0.3, ageMax = 9.2;
var unit = (frame.r - frame.l) / (ageMax - ageMin);
var barTop = 938.6;
var barFrac = (frame.b - barTop) / (frame.b - frame.t);

// one strip per record: pixel top/bottom of its labelled range, plus minor tick range
var panels = [
  { key: 'A', side: 'left', top: 77.1, bottom: 192.0, min: 472, max: 502, every: 10, name: 'Summer Insolation\n30°N (W/m²)', lx: 109, ly: 162 },
  { key: 'B', side: 'right', top: 188.3, bottom: 305.4, min: 1, max: 16, every: 5, name: 'Ice-Rafted\nHematite Debris', lx: 109, ly: 264 },
  { key: 'C', side: 'left', top: 283.3, bottom: 390.5, min: 25, max: 37, every: 4, minor: [25, 37, 2], name: 'Delingha\nδ¹⁸O (‰)', lx: 109, ly: 320 },
  { key: 'D', side: 'right', top: 348.8, bottom: 460.8, min: 0.2, max: 0.8, every: 0.2, minor: [0.2, 0.9, 0.1], name: 'Lake Qinghai\nSMI', lx: 109, ly: 405 },
  { key: 'E', side: 'left', top: 425.6, bottom: 548.4, min: -27, max: -25, every: 1, inverse: true, minor: [-27.5, -25, 0.5], name: 'Plant Residue\nδ¹³C (‰)', lx: 109, ly: 472 },
  { key: 'F', side: 'right', top: 498.1, bottom: 632.1, min: 0, max: 1.2, every: 0.4, minor: [0, 1.2, 0.2], name: 'LYG\nRb/Sr', lx: 109, ly: 564 },
  { key: 'G', side: 'left', top: 577.8, bottom: 699.5, min: 2.4, max: 4, every: 0.4, minor: [2.4, 4, 0.2], name: 'LYG\nSorting Coefficient', lx: 110, ly: 672 },
  { key: 'H', side: 'right', top: 686.1, bottom: 827.6, min: 0, max: 40, every: 10, name: 'LYG\nLoss on Ignition (%)', lx: 109, ly: 746 },
  { key: 'I', side: 'left', top: 775.7, bottom: 947.1, min: 0, max: 16, every: 4, minor: [0, 16, 2], name: 'LYG\nTOC/TN', lx: 105, ly: 903 }
];

function fmt(v) { return String(parseFloat(v.toFixed(2))); }

var tickStyle = { color: '#111', width: 1.4 };
// outerBoundsMode 'none': keep every grid exactly where it is placed
var grids = [
  { left: frame.l, right: W - frame.r, top: frame.t, bottom: H - frame.b, outerBoundsMode: 'none', containLabel: false,
    show: true, borderColor: '#111', borderWidth: 2, backgroundColor: 'transparent', z: 5 },
  { left: frame.l - ageMin * unit, right: W - (frame.l + (9 - ageMin) * unit), top: frame.t, bottom: H - frame.b, outerBoundsMode: 'none', containLabel: false, show: false }
];
function ageAxis(pos, margin) {
  return {
    gridIndex: 1, type: 'value', position: pos, min: 0, max: 9, interval: 1,
    axisLine: { show: false, onZero: false }, splitLine: { show: false },
    axisTick: { show: true, inside: false, length: 12, lineStyle: tickStyle },
    minorTick: { show: true, splitNumber: 5, length: 6.5, lineStyle: tickStyle },
    axisLabel: { margin: margin, fontSize: 17, color: INK, fontFamily: FONT }
  };
}
var xAxes = [
  { gridIndex: 0, type: 'value', min: ageMin, max: ageMax, show: false },
  ageAxis('top', 14),
  ageAxis('bottom', 21)
];
var yAxes = [
  { gridIndex: 0, type: 'value', min: 0, max: 1, show: false },
  { gridIndex: 1, type: 'value', min: 0, max: 1, show: false }
];
var titleStyle = { font: '17px ' + FONT, fill: INK, align: 'center', verticalAlign: 'middle', textAlign: 'center', textVerticalAlign: 'middle' };
var graphics = [
  { type: 'text', x: 520, y: 11, style: Object.assign({ text: 'Age (cal BP)' }, titleStyle) },
  { type: 'text', x: 520, y: 1021, style: Object.assign({ text: 'Age (cal BP)' }, titleStyle) }
];

function addGrid(top, bottom) {
  grids.push({ left: frame.l, right: W - frame.r, top: top, bottom: H - bottom, outerBoundsMode: 'none', containLabel: false, show: false });
  var gi = grids.length - 1;
  xAxes.push({ gridIndex: gi, type: 'value', min: ageMin, max: ageMax, show: false });
  return gi;
}

var panelAxis = [];
panels.forEach(function (p) {
  var k = (p.bottom - p.top) / (p.max - p.min);
  // short ticks on their own strip (may reach past the labelled range)
  if (p.minor) {
    var m = p.minor;
    var pos = function (v) { return p.inverse ? p.top + (v - p.min) * k : p.bottom - (v - p.min) * k; };
    var a = pos(m[0]), b = pos(m[1]);
    var gm = addGrid(Math.min(a, b), Math.max(a, b));
    yAxes.push({
      gridIndex: gm, type: 'value', position: p.side, min: m[0], max: m[1], interval: m[2], inverse: !!p.inverse,
      axisLine: { show: false, onZero: false }, splitLine: { show: false },
      axisTick: { show: true, inside: false, length: 7, lineStyle: tickStyle },
      axisLabel: { show: false }
    });
  }
  var g = addGrid(p.top, p.bottom);
  yAxes.push({
    gridIndex: g, type: 'value', position: p.side, min: p.min, max: p.max, interval: p.every, inverse: !!p.inverse,
    axisLine: { show: false, onZero: false }, splitLine: { show: false },
    axisTick: { show: true, inside: false, length: 11, lineStyle: tickStyle },
    axisLabel: { margin: 19, fontSize: 18, color: INK, fontFamily: FONT, formatter: fmt },
    name: p.name, nameLocation: 'middle', nameRotate: 90, nameGap: p.side === 'left' ? 56 : 49,
    nameTextStyle: { fontSize: 18, lineHeight: 20, color: INK, fontFamily: FONT, align: 'center' }
  });
  panelAxis.push({ x: xAxes.length - 1, y: yAxes.length - 1 });
  graphics.push({ type: 'text', x: p.lx, y: p.ly, style: { text: p.key, font: 'bold 21px ' + FONT, fill: '#111', align: 'center', verticalAlign: 'middle', textAlign: 'center', textVerticalAlign: 'middle' } });
});

function lineSeries(panelIdx, data, color, width, smooth, extra) {
  var s = {
    type: 'line', xAxisIndex: panelAxis[panelIdx].x, yAxisIndex: panelAxis[panelIdx].y, data: data,
    symbol: 'none', smooth: smooth, clip: false, z: 4,
    lineStyle: { color: color, width: width }, itemStyle: { color: color }
  };
  if (extra) { for (var key in extra) s[key] = extra[key]; }
  return s;
}

var bandFill = new echarts.graphic.LinearGradient(0, 0, 0, 1, [
  { offset: 0, color: '#e4f1fd' }, { offset: 0.15, color: '#a8cdf0' },
  { offset: 0.8, color: '#a8cdf0' }, { offset: 1, color: '#e4f1fd' }
]);
var depoFill = ['#76c8dc', '#fdbf8f'];

var series = [
  { type: 'custom', xAxisIndex: 0, yAxisIndex: 0, z: 1, silent: true, data: bands, encode: { x: [0, 1] },
    renderItem: function (params, api) {
      var p0 = api.coord([api.value(0), 1]);
      var p1 = api.coord([api.value(1), barFrac]);
      return { type: 'rect', shape: { x: p0[0], y: p0[1], width: p1[0] - p0[0], height: p1[1] - p0[1] }, style: { fill: bandFill } };
    } },
  { type: 'custom', xAxisIndex: 0, yAxisIndex: 0, z: 3, silent: true, data: depoSpans, encode: { x: [0, 1] },
    renderItem: function (params, api) {
      var p0 = api.coord([api.value(0), barFrac]);
      var p1 = api.coord([api.value(1), 0]);
      return { type: 'rect', shape: { x: p0[0], y: p0[1], width: p1[0] - p0[0], height: p1[1] - p0[1] },
        style: { fill: depoFill[params.dataIndex], stroke: '#6b6b6b', lineWidth: 1 },
        textContent: { style: { text: depoNames[params.dataIndex], font: '17px ' + FONT, fill: INK } },
        textConfig: { position: 'inside' } };
    } },
  { type: 'line', xAxisIndex: 0, yAxisIndex: 0, z: 2, symbol: 'none', silent: true,
    data: [[boundaryAge, barFrac], [boundaryAge, 1]],
    lineStyle: { color: '#7a7a7a', width: 1.2, type: [5, 3] } },
  lineSeries(0, insolation, '#f01414', 2.4, true),
  lineSeries(1, hematite, '#4a3d9c', 2, 0.25, {
    markPoint: {
      symbol: 'circle', symbolSize: 1, silent: true, itemStyle: { color: 'rgba(0,0,0,0)' },
      label: { show: true, position: 'inside', formatter: '{b}', fontSize: 16, color: INK, fontFamily: FONT },
      data: eventNames.map(function (n, i) { return { name: n, coord: eventAt[i] }; })
    }
  }),
  lineSeries(2, d18oRaw, '#a6d995', 1, false),
  lineSeries(2, d18oSmooth, '#00ab55', 2.3, false),
  lineSeries(3, smi, '#808080', 1.8, false),
  lineSeries(4, d13c, '#f5588f', 1.7, 0.4),
  lineSeries(5, rbsr, '#f24b4b', 1.7, 0.2),
  lineSeries(6, sorting, '#12b4e8', 2.4, 0.35),
  lineSeries(7, loi, '#68bc14', 1.8, false),
  lineSeries(8, tocTn, '#f98b3d', 2, 0.5)
];

var chart = echarts.init(document.getElementById('main'), null, { renderer: 'canvas', width: W, height: H });
chart.setOption({
  animation: false,
  backgroundColor: '#fff',
  textStyle: { fontFamily: FONT },
  grid: grids,
  xAxis: xAxes,
  yAxis: yAxes,
  graphic: graphics,
  series: series
});
</script>
</body>
</html>
